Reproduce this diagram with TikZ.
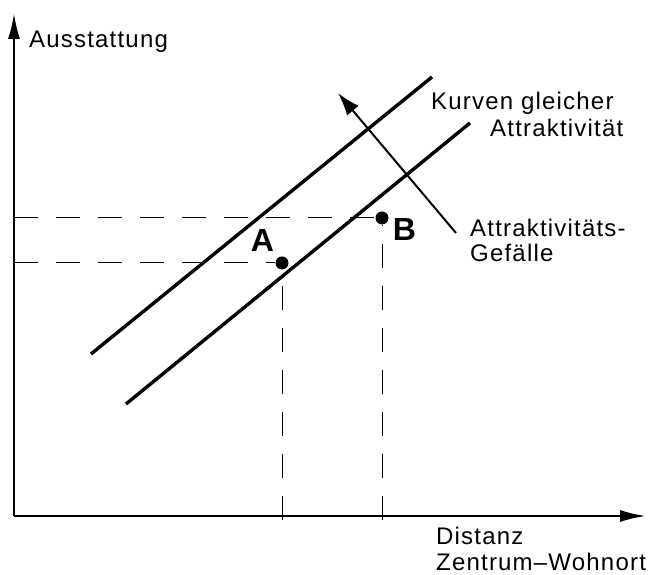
\documentclass[tikz,border=0pt]{standalone}
\usepackage{fontspec}
\setmainfont[LetterSpace=5]{Liberation Sans}
\usetikzlibrary{arrows.meta,positioning}

\begin{document}
\begin{tikzpicture}[
  x=1pt, y=1pt,
  lbl/.style={inner sep=0pt, anchor=base west, font=\fontsize{24}{28}\selectfont},
  pt/.style={circle, fill, inner sep=0pt, minimum size=13pt},
  ptlbl/.style={inner sep=0pt, font=\fontsize{32}{34}\selectfont\bfseries},
  axis/.style={-{Latex[length=26pt,width=12pt]}, line width=2.4pt},
  curve/.style={line width=3.4pt},
  help/.style={line width=1pt, dash pattern=on 24pt off 18pt},
  arr/.style={-{Latex[length=23pt,width=15pt]}, line width=2pt}
]
\useasboundingbox (0,0) rectangle (649,575);

\coordinate (O) at (14,59);
\coordinate (ytop) at (14,562);
\coordinate (xend) at (646,59);

\draw[axis] (O) -- (ytop);
\draw[axis] (O) -- (xend);

\node[lbl] (ylbl) at (29,527) {Ausstattung};
\node[lbl] (xlbl1) at (436,30) {Distanz};
\node[lbl] (xlbl2) at (436,4) {Zentrum--Wohnort};

% Kurven gleicher Attraktivitaet
\coordinate (c1a) at (91,221);
\coordinate (c1b) at (432,498);
\coordinate (c2a) at (126,171);
\coordinate (c2b) at (470,452);
\draw[curve] (c1a) -- (c1b);
\draw[curve] (c2a) -- (c2b);

% Punkte A und B
\node[pt] (ptA) at (282,312) {};
\node[pt] (ptB) at (382,357) {};
\node[ptlbl, above left=7pt and 3pt of ptA] (labA) {A};
\node[ptlbl, right=4pt of ptB, yshift=-12pt] (labB) {B};

\draw[help] (O |- ptA) -- (ptA);
\draw[help] (O |- ptB) -- (ptB);
\draw[help, shorten <=-4pt] (ptA |- O) -- (ptA);
\draw[help, shorten <=-4pt] (ptB |- O) -- (ptB);

% Gefaelle
\coordinate (g0) at (456,342);
\coordinate (g1) at (338,482);
\draw[arr] (g0) -- (g1);

\node[lbl] (kurv1) at (431,465) {Kurven gleicher};
\node[lbl] (kurv2) at (490,438) {Attraktivität};
\node[lbl] (gef1) at (470,338) {Attraktivitäts-};
\node[lbl] (gef2) at (470,313) {Gefälle};
\end{tikzpicture}
\end{document}
